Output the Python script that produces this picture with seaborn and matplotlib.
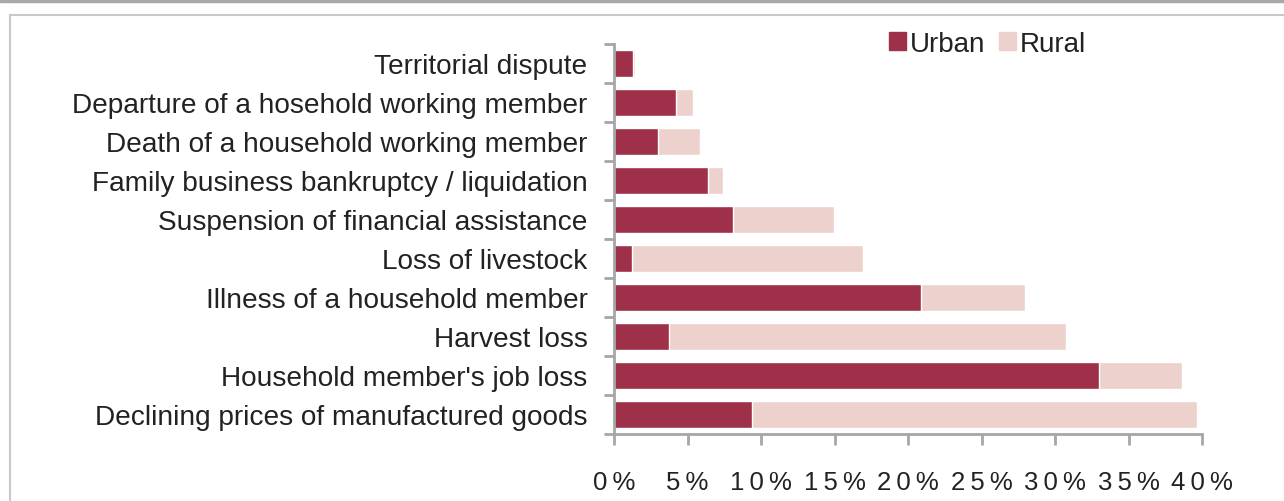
# -*- coding: utf-8 -*-
# %% Import Libraries

import numpy as np
import pandas as pd
import matplotlib.pyplot as plt
import seaborn as sns
from matplotlib.lines import Line2D
from matplotlib.patches import Patch

# %% Data (in %)

categories = [
    "Territorial dispute",
    "Departure of a hosehold working member",
    "Death of a household working member",
    "Family business bankruptcy / liquidation",
    "Suspension of financial assistance",
    "Loss of livestock",
    "Illness of a household member",
    "Harvest loss",
    "Household member's job loss",
    "Declining prices of manufactured goods",
]
urban = [1.27, 4.2, 2.98, 6.38, 8.08, 1.25, 20.86, 3.77, 32.97, 9.37]
rural = [0.15, 1.15, 2.86, 1.02, 6.88, 15.72, 7.08, 26.97, 5.66, 30.28]
x_ticks = [0, 5, 10, 15, 20, 25, 30, 35, 40]

df = pd.DataFrame({"category": categories, "Urban": urban, "Rural": rural})
df["total"] = df["Urban"] + df["Rural"]

# %% Plot

sns.set_style("white")
plt.rcParams["font.family"] = ["Liberation Sans", "DejaVu Sans"]

urban_col = "#9E3149"
rural_col = "#EDD1CD"
axis_col = "#A6A6A8"
text_col = "#222222"

fig = plt.figure(figsize=(12.84, 5.02), dpi=100)
ax = fig.add_axes([614 / 1284, 67 / 502, 588 / 1284, 390 / 502])

sns.barplot(data=df, y="category", x="total", color=rural_col, width=0.69,
            saturation=1, ax=ax, orient="h")
sns.barplot(data=df, y="category", x="Urban", color=urban_col, width=0.69,
            saturation=1, ax=ax, orient="h")

ax.set_xlim(0, 40)
ax.set_ylim(len(categories) - 0.5, -0.5)
ax.set_xlabel("")
ax.set_ylabel("")

# spaced-out percent labels like the original
ax.set_xticks(x_ticks)
ax.set_xticklabels(["\u2009".join(f"{v}%") for v in x_ticks])
ax.set_yticks(np.arange(-0.5, len(categories)), minor=True)
ax.tick_params(axis="y", which="major", length=0, pad=19,
               labelsize=20.2, labelcolor=text_col)
ax.tick_params(axis="y", which="minor", length=7, width=2, color=axis_col,
               direction="out", left=True)
ax.tick_params(axis="x", length=8, width=2, color=axis_col, direction="out",
               bottom=True, pad=18, labelsize=18.5, labelcolor=text_col)

for s in ["top", "right"]:
    ax.spines[s].set_visible(False)
for s in ["left", "bottom"]:
    ax.spines[s].set_color(axis_col)
    ax.spines[s].set_linewidth(2)

handles = [Patch(color=urban_col, label="Urban"),
           Patch(color=rural_col, label="Rural")]
fig.legend(handles=handles, loc="upper left", bbox_to_anchor=(875 / 1284, 1 - 18 / 502),
           ncol=2, frameon=False, fontsize=20, handlelength=0.6, handleheight=0.6,
           handletextpad=0.15, columnspacing=0.5, labelcolor=text_col, borderpad=0)

# outer frame lines
fig.add_artist(Line2D([0, 1], [1 - 1.5 / 502, 1 - 1.5 / 502], color="#A8A8AA", lw=2.5))
fig.add_artist(Line2D([10 / 1284, 1], [1 - 16 / 502, 1 - 16 / 502], color="#C8C8CA", lw=1.5))
fig.add_artist(Line2D([10 / 1284, 10 / 1284], [0, 1 - 16 / 502], color="#C8C8CA", lw=1.5))

fig.savefig("out.png", dpi=100)
